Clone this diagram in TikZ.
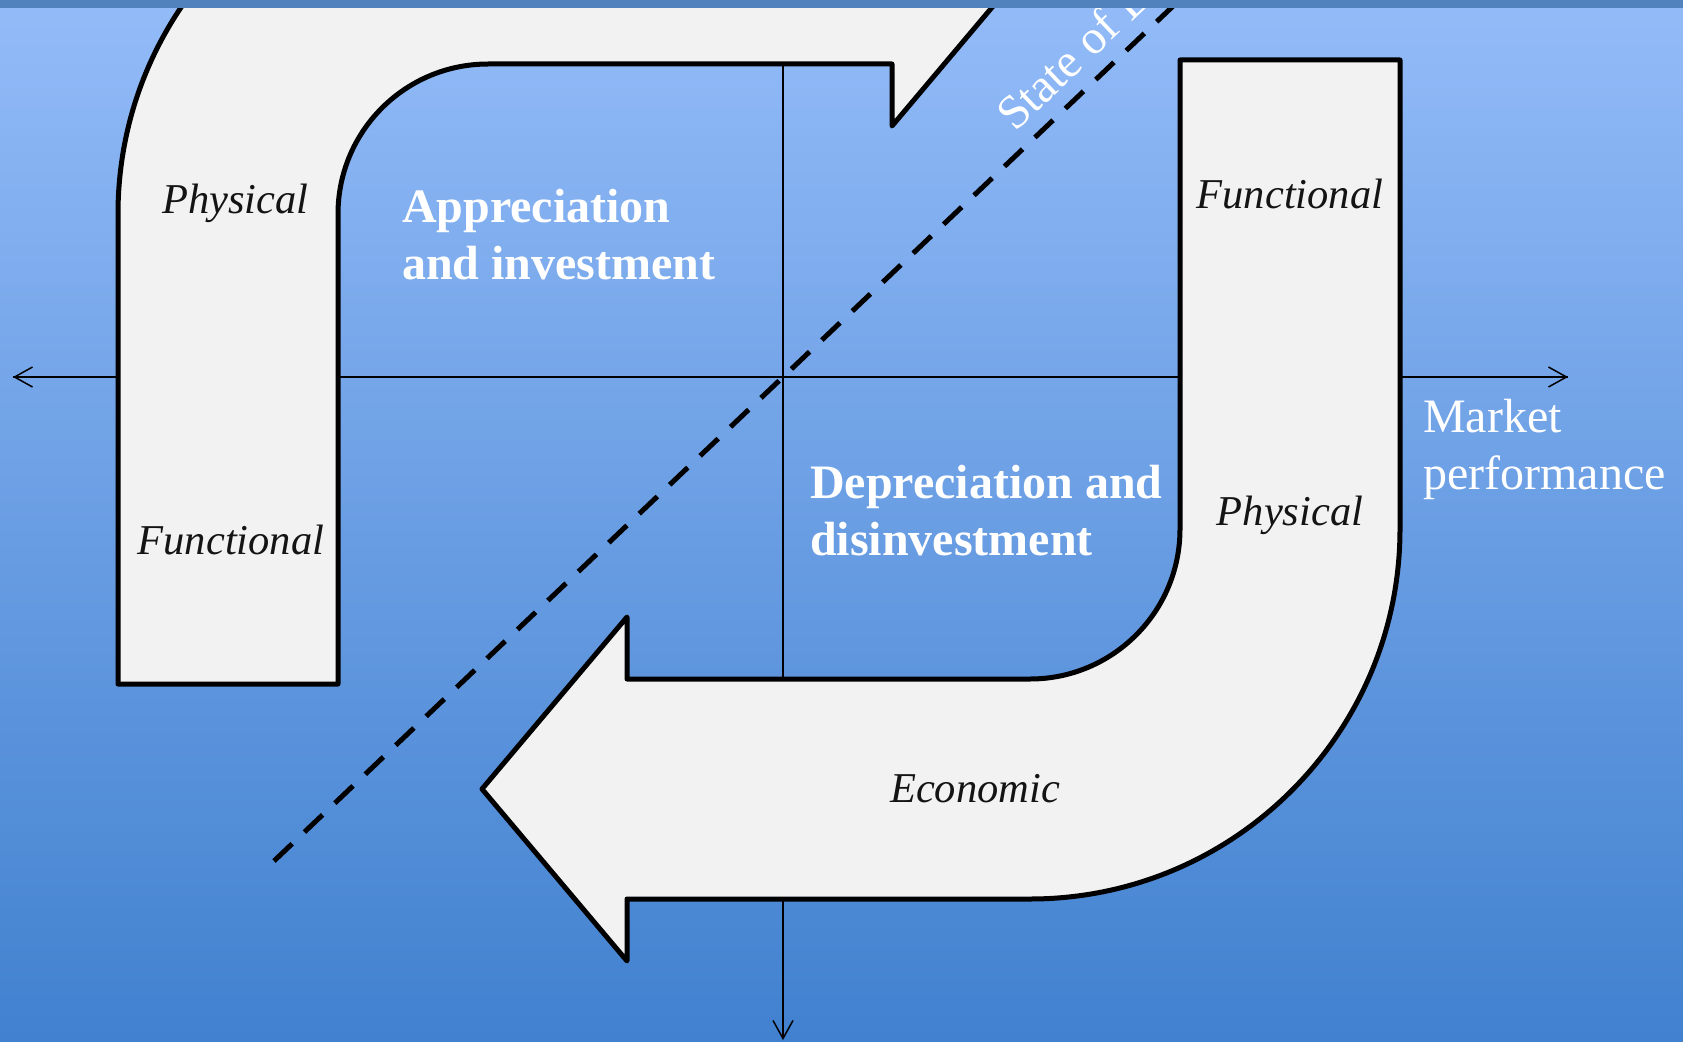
\documentclass[tikz,border=0pt]{standalone}
\usepackage{fontspec}
\setmainfont{Liberation Serif}
\usetikzlibrary{arrows.meta}
\definecolor{bgtop}{RGB}{147,187,248}
\definecolor{bgbot}{RGB}{65,129,207}
\definecolor{stripc}{RGB}{81,130,190}
\definecolor{shapefill}{RGB}{242,242,242}
\tikzset{
  bend arrow/.style={draw=black, fill=shapefill, line width=5pt, line join=round},
  axisline/.style={draw=black, line width=1.5pt, arrows={-{Straight Barb[length=18pt,width=20pt]}}},
  ital/.style={font=\fontsize{42.5}{51}\selectfont\itshape, text=black!92, inner sep=0pt, anchor=base},
  boldw/.style={font=\fontsize{48}{57}\selectfont\bfseries, text=white, inner sep=0pt, anchor=base west},
  plainw/.style={font=\fontsize{48}{57}\selectfont, text=white, inner sep=0pt, anchor=base west},
  dividerline/.style={draw=black, line width=5pt, dash pattern=on 25pt off 17pt}
}
\begin{document}
\begin{tikzpicture}[x=1pt,y=-1pt]
\useasboundingbox (0,0) rectangle (1683,1041);
\clip (0,0) rectangle (1683,1041);
% background
\shade[top color=bgtop, bottom color=bgbot] (0,0) rectangle (1683,1041);
% axes
\coordinate (axL) at (13,377);
\coordinate (axR) at (1568,377);
\coordinate (axT) at (783,64);
\coordinate (axB) at (783,1040);
\draw[axisline] (axR) -- (axL);
\draw[axisline] (axL) -- (axR);
\draw[axisline] (axT) -- (axB);
% top-left bent arrow
\path[bend arrow] (118,684) -- (338,684) -- (338,214)
  .. controls (338,131.2) and (405.2,64) .. (488,64)
  -- (892,64) -- (892,126) -- (1037,-46) -- (892,-218) -- (892,-156)
  -- (488,-156)
  .. controls (283.7,-156) and (118,9.7) .. (118,214)
  -- cycle;
% bottom-right bent arrow
\path[bend arrow] (1180,60) -- (1400,60) -- (1400,529)
  .. controls (1400,733.3) and (1234.3,899) .. (1030,899)
  -- (627,899) -- (627,961) -- (482,789) -- (627,617) -- (627,679)
  -- (1030,679)
  .. controls (1112.8,679) and (1180,611.8) .. (1180,529)
  -- cycle;
% dashed divider
\coordinate (dashA) at (274,861);
\coordinate (dashB) at (1190,-10);
\draw[dividerline] (dashA) -- (dashB);
\node[plainw, rotate=43.56] (state) at (1015,133) {State of Economy};
% labels
\node[ital] (phyL) at (235.5,213) {Physical};
\node[ital] (funL) at (231,554) {Functional};
\node[ital] (funR) at (1290,208) {Functional};
\node[ital] (phyR) at (1290,525) {Physical};
\node[ital] (eco) at (975,802) {Economic};
\node[boldw] (appr1) at (402,222) {Appreciation};
\node[boldw] (appr2) at (402,279) {and investment};
\node[boldw] (depr1) at (810,498) {Depreciation and};
\node[boldw] (depr2) at (810,555) {disinvestment};
\node[plainw] (mkt1) at (1423,432.7) {Market};
\node[plainw] (mkt2) at (1423,489) {performance};
% top strip
\fill[stripc] (0,0) rectangle (1683,8);
\end{tikzpicture}
\end{document}
